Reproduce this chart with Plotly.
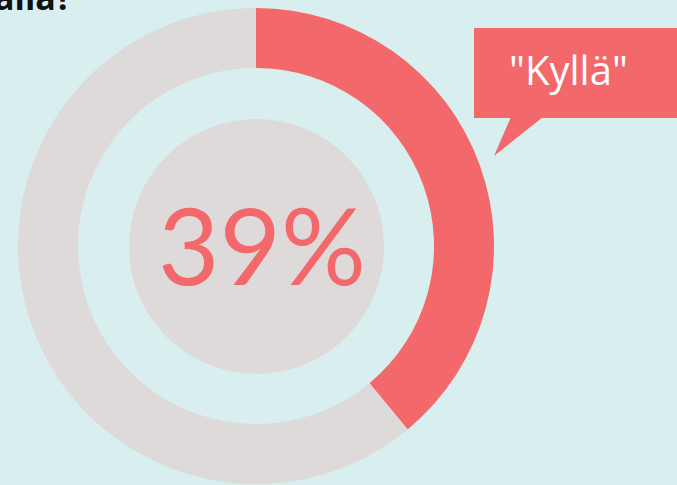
import plotly.graph_objects as go

# Data
labels = ["Kyllä", "Ei"]
values = [39, 61]
slice_colors = ["#F2686B", "#DEDADA"]
center_label = "39%"
callout_label = "\"Kyllä\""
title_tail = "alla?"

BG = "#D8EEEF"
CORAL = "#F2686B"
GREY = "#DEDADA"

W, H = 677, 485


def px_x(x):
    return x / W


def px_y(y):
    return 1 - y / H


fig = go.Figure()
fig.add_trace(go.Pie(
    labels=labels, values=values,
    marker=dict(colors=slice_colors, line=dict(width=0)),
    hole=0.748, sort=False, direction="clockwise", rotation=0,
    textinfo="none", hoverinfo="label+percent", showlegend=False,
    domain=dict(x=[px_x(18), px_x(494)], y=[px_y(484), px_y(8)]),
))

shapes = [
    # inner filled disc
    dict(type="circle", xref="paper", yref="paper", layer="below",
         x0=px_x(129), x1=px_x(384), y0=px_y(374), y1=px_y(119),
         fillcolor=GREY, line=dict(width=0)),
    # callout box
    dict(type="rect", xref="paper", yref="paper",
         x0=px_x(474), x1=px_x(690), y0=px_y(118), y1=px_y(28),
         fillcolor=CORAL, line=dict(width=0)),
    # callout tail
    dict(type="path", xref="paper", yref="paper",
         path=f"M {px_x(511)} {px_y(117)} L {px_x(543)} {px_y(117)} L {px_x(494)} {px_y(156)} Z",
         fillcolor=CORAL, line=dict(width=0)),
]

annotations = [
    dict(text=center_label, x=px_x(262), y=px_y(244), xref="paper", yref="paper",
         showarrow=False, xanchor="center", yanchor="middle",
         font=dict(family="Lato", size=106, color=CORAL)),
    dict(text=callout_label, x=px_x(568), y=px_y(70), xref="paper", yref="paper",
         showarrow=False, xanchor="center", yanchor="middle",
         font=dict(family="Open Sans", size=40, color="white")),
    # title is cropped at the top edge in the source image
    dict(text=f"<b>{title_tail}</b>", x=px_x(74), y=px_y(22), xref="paper", yref="paper",
         showarrow=False, xanchor="right", yanchor="bottom",
         font=dict(family="Open Sans", size=34, color="#111111")),
]

fig.update_layout(
    width=W, height=H,
    margin=dict(l=0, r=0, t=0, b=0),
    paper_bgcolor=BG, plot_bgcolor=BG,
    shapes=shapes, annotations=annotations,
)

fig.write_html("out.html", config={"displayModeBar": False},
               post_script="document.body.style.margin='0';")
